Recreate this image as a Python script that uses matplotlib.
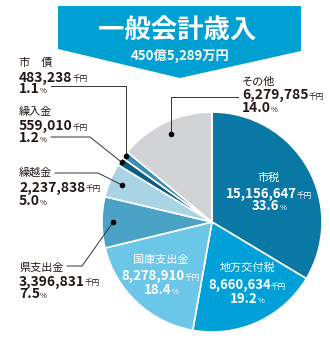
import matplotlib
matplotlib.use('Agg')
import matplotlib.pyplot as plt
from matplotlib.patches import Polygon
from matplotlib.offsetbox import TextArea, HPacker, AnnotationBbox
import numpy as np

categories = ['市税', '地方交付税', '国庫支出金', '県支出金', '繰越金', '繰入金', '市　債', 'その他']
amounts = ['15,156,647', '8,660,634', '8,278,910', '3,396,831', '2,237,838', '559,010', '483,238', '6,279,785']
percents = [33.6, 19.2, 18.4, 7.5, 5.0, 1.2, 1.1, 14.0]
colors = ['#0a78a5', '#00a0d8', '#6cc6e8', '#4aa2c6', '#a9d4e5', '#0b5c80', '#3a8db3', '#d2d3d5']
title = '一般会計歳入'
subtitle = '450億5,289万円'
unit = '千円'

CJK = 'Noto Sans CJK JP'

fig = plt.figure(figsize=(3.3, 3.42), dpi=100)
ax = fig.add_axes([0, 0, 1, 1])
cx, cy, R = 212, 222, 110
wedges, _ = ax.pie(percents, colors=colors, startangle=-90, counterclock=True,
                   center=(cx, cy), radius=R, frame=True,
                   wedgeprops=dict(edgecolor='white', linewidth=1.2))
ax.set_xlim(0, 330)
ax.set_ylim(342, 0)
ax.axis('off')

# banner
ax.add_patch(Polygon([(58, 6), (301, 6), (301, 51), (180, 78), (58, 49)],
                     closed=True, facecolor='#00a0d3', edgecolor='none'))
ax.text(177, 31, title, family=CJK, fontsize=19, fontweight='bold', color='white',
        ha='center', va='center')
ax.text(180, 56, subtitle, family=CJK, fontsize=9.5, fontweight='bold', color='white',
        ha='center', va='center')


def line(x, y, parts, align='left'):
    areas = [TextArea(t, textprops=dict(fontsize=s, fontweight=w, family=CJK, color=c))
             for (t, s, w, c) in parts]
    box = HPacker(children=areas, align='baseline', pad=0, sep=0)
    ab = AnnotationBbox(box, (x, y), xycoords='data', frameon=False, pad=0,
                        box_alignment=(0 if align == 'left' else 0.5, 0.5))
    ax.add_artist(ab)


def block(i, x, ys, color, align, nsize):
    line(x, ys[0], [(categories[i], 8, 'normal', color)], align)
    line(x, ys[1] + 1, [(amounts[i], nsize, 'bold', color), (unit, 5.5, 'normal', color)], align)
    line(x, ys[2] + 1, [(f'{percents[i]:.1f}', nsize, 'bold', color), ('%', 5.5, 'normal', color)], align)


# inside labels
block(0, 269, (177.5, 193, 205), 'white', 'center', 9.5)
block(1, 247, (268, 284, 298), 'white', 'center', 9.5)
block(2, 161, (260, 275, 289), 'white', 'center', 9.5)

# outside labels
txt = '#231815'
block(6, 19, (62.5, 76.5, 88), txt, 'left', 10)
block(5, 19, (111.5, 125, 137.5), txt, 'left', 10)
block(4, 19, (172.5, 186.5, 200), txt, 'left', 10)
block(3, 19, (267.5, 280.5, 293), txt, 'left', 10)
block(7, 242, (82, 94, 107.5), txt, 'left', 10)


def dot(i, frac):
    w = wedges[i]
    mid = np.deg2rad((w.theta1 + w.theta2) / 2)
    return cx + frac * R * np.cos(mid), cy + frac * R * np.sin(mid)


lc = '#333333'
d = dot(6, 0.99)
ax.plot([51, d[0], d[0]], [86, 86, d[1]], color=lc, lw=0.7)
ax.plot(*d, 'o', color='black', ms=3)
d = dot(5, 0.985)
ax.plot([51, 90, d[0]], [137, 137, d[1]], color=lc, lw=0.7)
ax.plot(*d, 'o', color='black', ms=3)
d = dot(4, 0.88)
ax.plot([55, 98, d[0]], [173, 173, d[1]], color=lc, lw=0.7)
ax.plot(*d, 'o', color='black', ms=3)
d = dot(3, 0.9)
ax.plot([67, 82, d[0]], [266, 266, d[1]], color=lc, lw=0.7)
ax.plot(*d, 'o', color='black', ms=3)
d = dot(7, 0.88)
ax.plot([238, d[0], d[0]], [97, 97, d[1]], color=lc, lw=0.7)
ax.plot(*d, 'o', color='black', ms=3)

fig.savefig('out.png', dpi=100)
